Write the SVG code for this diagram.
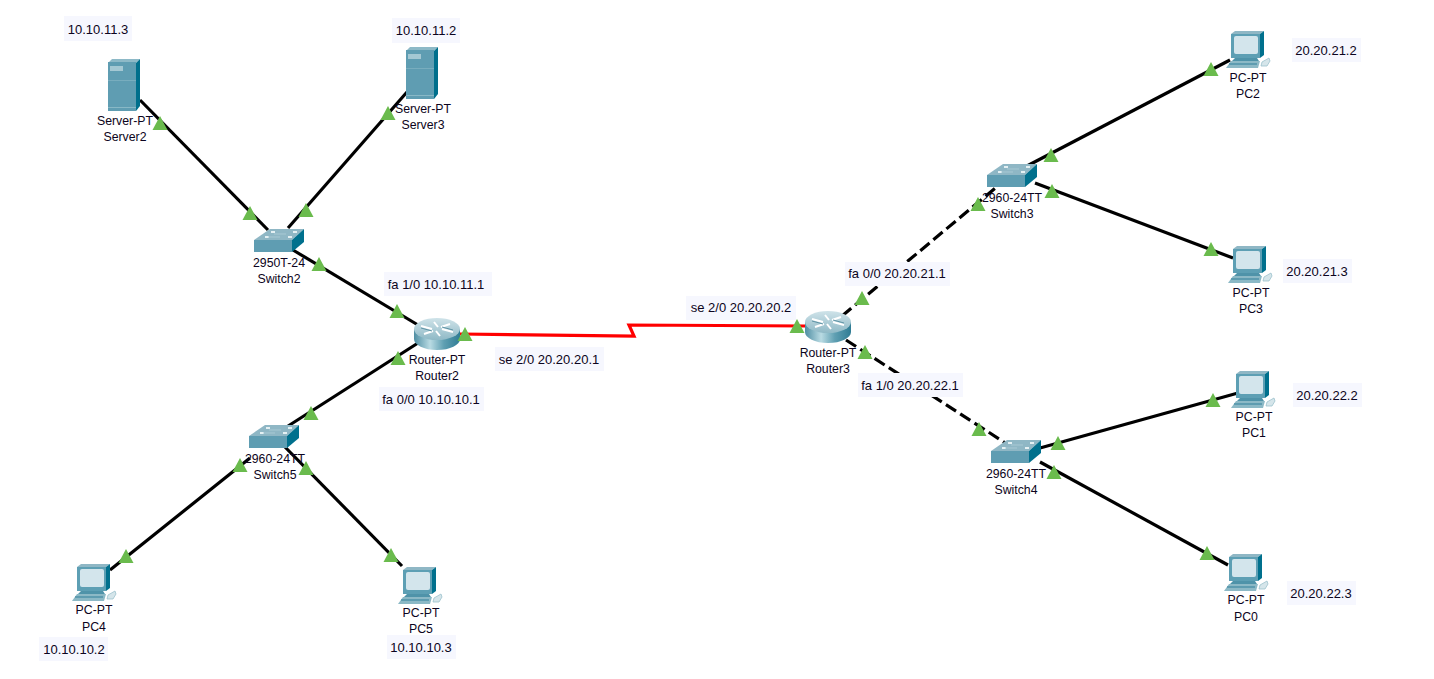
<svg xmlns="http://www.w3.org/2000/svg" width="1434" height="679" viewBox="0 0 1434 679">
<style>
text{font-family:"Liberation Sans",Arial,sans-serif;font-size:12.3px;fill:#0c0420;text-anchor:middle}
.n text,text.n{font-size:13px}
.link{fill:none;stroke:#000;stroke-width:3.2}
.dash{stroke-dasharray:12 5}
.serial{fill:none;stroke:#f00;stroke-width:3.2}
.note{fill:#f6f7fe}
.tri{fill:#6abb4d}
</style>
<defs>
<linearGradient id="cyl" x1="0" x2="1" y1="0" y2="0">
<stop offset="0" stop-color="#4f8ea3"/><stop offset=".35" stop-color="#b9dbe3"/><stop offset=".65" stop-color="#5f9fb2"/><stop offset="1" stop-color="#2f7c94"/>
</linearGradient>
<linearGradient id="cap" x1="0" x2="0" y1="0" y2="1">
<stop offset="0" stop-color="#cfe3e9"/><stop offset="1" stop-color="#8fb9c6"/>
</linearGradient>
<polygon id="up" class="tri" points="0,-7 7.5,7 -7.5,7"/>
<g id="server">
<polygon points="4,0 32,0 28,4 0,4" fill="#8db9c7"/>
<rect x="0" y="3" width="28" height="49" fill="#5f9db2"/>
<polygon points="28,4 32,0 32,47 28,52" fill="#006f8c"/>
<rect x="2" y="7" width="13" height="5" fill="#a4c8d3"/>
<rect x="0" y="21" width="28" height="1" fill="#78adbe"/>
<rect x="0" y="48" width="28" height="1" fill="#88b8c6"/>
</g>
<g id="switch">
<polygon points="16,0 50,0 38,11 0,11" fill="#8fb7c5"/>
<polygon points="38,11 50,0 50,13 38,23" fill="#00708d"/>
<rect x="0" y="11" width="38" height="12" fill="#5f9db2"/>
<g fill="#e4f0f3"><rect x="17" y="2" width="4" height="2"/><rect x="39" y="2" width="4" height="2"/><rect x="11" y="7" width="4" height="2"/><rect x="34" y="7" width="4" height="2"/></g>
<path d="M20 5H32M14 8H26" stroke="#a8c9d4" stroke-width="1" fill="none"/>
</g>
<g id="router">
<path d="M0 11V21C0 27 10 32 23 32S46 27 46 21V11Z" fill="url(#cyl)"/>
<ellipse cx="23" cy="11" rx="23" ry="11" fill="url(#cap)"/>
<path d="M7 8L18 11M39 14L28 11M20 4L24 9M26 18L22 13M36 6L27 9M10 16L19 13" stroke="#fff" stroke-width="2" fill="none"/>
<path d="M7 10L18 13M39 12L28 9" stroke="#5f93a5" stroke-width="1" fill="none"/>
</g>
<g id="pc">
<polygon points="5,3 9,0 38,0 34,3" fill="#8fb7c5"/>
<rect x="5" y="3" width="29" height="24" fill="#5d9fb4"/>
<polygon points="34,3 38,0 38,24 34,27" fill="#00708d"/>
<rect x="8" y="5" width="24" height="18" rx="2" fill="#d3e5ec"/>
<polygon points="9,27 31,27 33,30 6,30" fill="#4f93a9"/>
<polygon points="5,30 34,30 32,37 0,37" fill="#8cb9c6"/>
<path d="M3 33H31" stroke="#4f93a9" stroke-width="1.5"/>
<path d="M36 31L43 27L44 30L41 35H35Z" fill="#d5e5ea" stroke="#9cc1cd" stroke-width=".8"/>
</g>
</defs>

<rect width="1434" height="679" fill="#fff"/>

<g id="connectors">
<path class="link" d="M140 100L268 230"/>
<path class="link" d="M407 92L288 228"/>
<path class="link" d="M293 250L418 325"/>
<path class="link" d="M418 343L285 428"/>
<path class="link" d="M250 458L110 570"/>
<path class="link" d="M285 447L402 566"/>
<path class="serial" d="M460 334L634 336L629 325L806 326"/>
<path class="link dash" d="M842 316L1005 180"/>
<path class="link dash" d="M846 340L1010 446"/>
<path class="link" d="M1025 167L1230 60"/>
<path class="link" d="M1035 183L1233 258"/>
<path class="link" d="M1040 448L1238 393"/>
<path class="link" d="M1040 462L1228 565"/>
</g>

<g id="note-server2" class="n"><rect class="note" x="64" y="16" width="68" height="25"/><text x="98" y="34">10.10.11.3</text></g>
<g id="note-server3" class="n"><rect class="note" x="392" y="18" width="68" height="25"/><text x="426" y="35">10.10.11.2</text></g>
<g id="note-r2-fa1" class="n"><rect class="note" x="384" y="272" width="108" height="24"/><text x="436" y="289">fa 1/0 10.10.11.1</text></g>
<g id="note-r2-fa0" class="n"><rect class="note" x="379" y="387" width="105" height="24"/><text x="431" y="404">fa 0/0 10.10.10.1</text></g>
<g id="note-r2-se" class="n"><rect class="note" x="495" y="347" width="109" height="24"/><text x="549" y="364">se 2/0 20.20.20.1</text></g>
<g id="note-r3-se" class="n"><rect class="note" x="686" y="296" width="110" height="24"/><text x="741" y="312">se 2/0 20.20.20.2</text></g>
<g id="note-r3-fa0" class="n"><rect class="note" x="845" y="262" width="105" height="24"/><text x="897" y="278">fa 0/0 20.20.21.1</text></g>
<g id="note-r3-fa1" class="n"><rect class="note" x="858" y="373" width="105" height="24"/><text x="910" y="390">fa 1/0 20.20.22.1</text></g>
<g id="note-pc4" class="n"><rect class="note" x="39" y="637" width="69" height="24"/><text x="74" y="654">10.10.10.2</text></g>
<g id="note-pc5" class="n"><rect class="note" x="387" y="635" width="69" height="24"/><text x="421" y="652">10.10.10.3</text></g>
<g id="note-pc2" class="n"><rect class="note" x="1292" y="38" width="69" height="24"/><text x="1326" y="55">20.20.21.2</text></g>
<g id="note-pc3" class="n"><rect class="note" x="1283" y="259" width="69" height="24"/><text x="1317" y="276">20.20.21.3</text></g>
<g id="note-pc1" class="n"><rect class="note" x="1293" y="383" width="69" height="24"/><text x="1327" y="400">20.20.22.2</text></g>
<g id="note-pc0" class="n"><rect class="note" x="1287" y="581" width="69" height="24"/><text x="1321" y="598">20.20.22.3</text></g>

<g id="Server2"><use href="#server" x="108" y="59"/><text x="125" y="125">Server-PT</text><text x="125" y="141">Server2</text></g>
<g id="Server3"><use href="#server" x="406" y="47"/><text x="423" y="113">Server-PT</text><text x="423" y="129">Server3</text></g>
<g id="Switch2"><use href="#switch" x="254" y="229"/><text x="279" y="267">2950T-24</text><text x="279" y="283">Switch2</text></g>
<g id="Switch5"><use href="#switch" x="249" y="425"/><text x="275" y="463">2960-24TT</text><text x="275" y="479">Switch5</text></g>
<g id="Switch3"><use href="#switch" x="987" y="164"/><text x="1012" y="202">2960-24TT</text><text x="1012" y="218">Switch3</text></g>
<g id="Switch4"><use href="#switch" x="991" y="440"/><text x="1016" y="478">2960-24TT</text><text x="1016" y="494">Switch4</text></g>
<g id="Router2"><use href="#router" x="414" y="318"/><text x="437" y="364">Router-PT</text><text x="437" y="380">Router2</text></g>
<g id="Router3"><use href="#router" x="805" y="311"/><text x="828" y="357">Router-PT</text><text x="828" y="373">Router3</text></g>
<g id="PC2"><use href="#pc" x="1226" y="31"/><text x="1248" y="82">PC-PT</text><text x="1248" y="98">PC2</text></g>
<g id="PC3"><use href="#pc" x="1228" y="246"/><text x="1251" y="297">PC-PT</text><text x="1251" y="313">PC3</text></g>
<g id="PC1"><use href="#pc" x="1231" y="371"/><text x="1254" y="421">PC-PT</text><text x="1254" y="437">PC1</text></g>
<g id="PC0"><use href="#pc" x="1224" y="554"/><text x="1246" y="604">PC-PT</text><text x="1246" y="621">PC0</text></g>
<g id="PC4"><use href="#pc" x="72" y="564"/><text x="94" y="614">PC-PT</text><text x="94" y="631">PC4</text></g>
<g id="PC5"><use href="#pc" x="398" y="567"/><text x="421" y="617">PC-PT</text><text x="421" y="633">PC5</text></g>

<g id="port-lights">
<use href="#up" x="160" y="123"/><use href="#up" x="250" y="213"/><use href="#up" x="306" y="210"/><use href="#up" x="388" y="113"/>
<use href="#up" x="319" y="264"/><use href="#up" x="397" y="311"/><use href="#up" x="398" y="358"/><use href="#up" x="465" y="334"/>
<use href="#up" x="311" y="413"/><use href="#up" x="240" y="465"/><use href="#up" x="306" y="468"/><use href="#up" x="126" y="556"/>
<use href="#up" x="391" y="555"/><use href="#up" x="797" y="326"/><use href="#up" x="862" y="298"/><use href="#up" x="865" y="352"/>
<use href="#up" x="979" y="429"/><use href="#up" x="978" y="204"/><use href="#up" x="1051" y="155"/><use href="#up" x="1052" y="191"/>
<use href="#up" x="1211" y="69"/><use href="#up" x="1211" y="249"/><use href="#up" x="1213" y="400"/><use href="#up" x="1058" y="443"/>
<use href="#up" x="1054" y="472"/><use href="#up" x="1207" y="553"/>
</g>
</svg>
